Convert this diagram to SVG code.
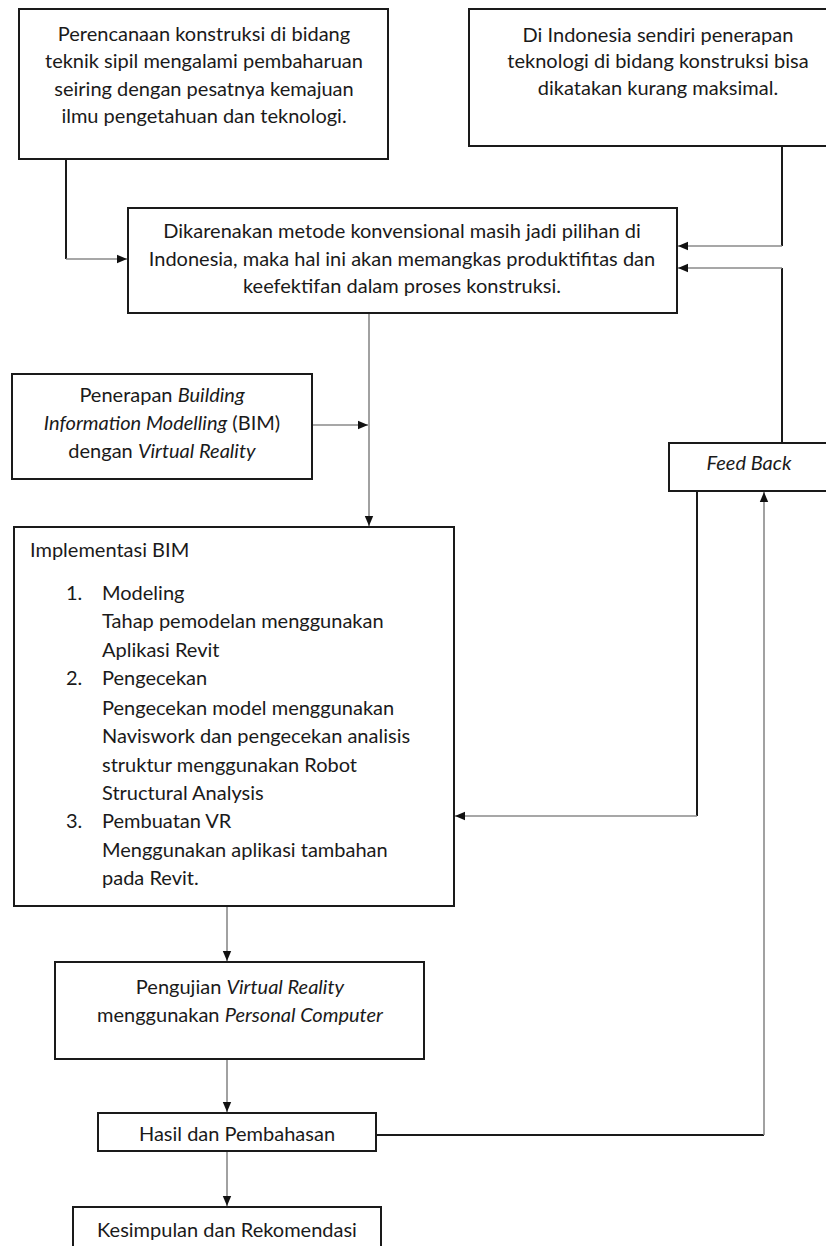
<svg xmlns="http://www.w3.org/2000/svg" width="826" height="1246" viewBox="0 0 826 1246">
<defs>
<style>
.box{fill:#fff;stroke:#1a1a1a;stroke-width:2}
.t{font-family:Lato,"Liberation Sans",sans-serif;font-size:20px;fill:#1a1a1a}
.c{text-anchor:middle}
.i{font-style:italic}
.k{fill:none;stroke:#1a1a1a;stroke-width:2}
.g{fill:none;stroke:#8a8a8a;stroke-width:1.6}
</style>
<marker id="ah" markerUnits="userSpaceOnUse" markerWidth="11" markerHeight="10" refX="10" refY="5" orient="auto">
<path d="M0,0.8 L10,5 L0,9.2 Z" fill="#111"/>
</marker>
</defs>
<rect width="826" height="1246" fill="#fff"/>
<g id="connectors">
<line class="k" x1="66" y1="159" x2="66" y2="259"/>
<line class="g" x1="66" y1="259" x2="127" y2="259" marker-end="url(#ah)"/>
<line class="k" x1="782" y1="146" x2="782" y2="246"/>
<line class="g" x1="782" y1="246" x2="678" y2="246" marker-end="url(#ah)"/>
<line class="k" x1="782" y1="443" x2="782" y2="268"/>
<line class="g" x1="782" y1="268" x2="678" y2="268" marker-end="url(#ah)"/>
<line class="g" x1="369" y1="313" x2="369" y2="526" marker-end="url(#ah)"/>
<line class="g" x1="312" y1="425" x2="368" y2="425" marker-end="url(#ah)"/>
<line class="k" x1="697" y1="491" x2="697" y2="816"/>
<line class="g" x1="697" y1="816" x2="455" y2="816" marker-end="url(#ah)"/>
<line class="k" x1="376" y1="1135" x2="764" y2="1135"/>
<line class="g" x1="764" y1="1135" x2="764" y2="492" marker-end="url(#ah)"/>
<line class="g" x1="227" y1="906" x2="227" y2="961" marker-end="url(#ah)"/>
<line class="g" x1="227" y1="1059" x2="227" y2="1112" marker-end="url(#ah)"/>
<line class="g" x1="227" y1="1151" x2="227" y2="1206" marker-end="url(#ah)"/>
</g>
<g id="n1">
<rect class="box" x="19" y="9" width="369" height="150"/>
<text class="t c" x="204" y="41">Perencanaan konstruksi di bidang</text>
<text class="t c" x="204" y="68">teknik sipil mengalami pembaharuan</text>
<text class="t c" x="204" y="96">seiring dengan pesatnya kemajuan</text>
<text class="t c" x="204" y="123">ilmu pengetahuan dan teknologi.</text>
</g>
<g id="n2">
<rect class="box" x="469" y="9" width="380" height="137"/>
<text class="t c" x="658" y="42">Di Indonesia sendiri penerapan</text>
<text class="t c" x="658" y="68">teknologi di bidang konstruksi bisa</text>
<text class="t c" x="658" y="95">dikatakan kurang maksimal.</text>
</g>
<g id="n3">
<rect class="box" x="128" y="208" width="549" height="105"/>
<text class="t c" x="402" y="238">Dikarenakan metode konvensional masih jadi pilihan di</text>
<text class="t c" x="402" y="266">Indonesia, maka hal ini akan memangkas produktifitas dan</text>
<text class="t c" x="402" y="293">keefektifan dalam proses konstruksi.</text>
</g>
<g id="n4">
<rect class="box" x="12" y="374" width="300" height="105"/>
<text class="t c" x="162" y="402">Penerapan <tspan class="i">Building</tspan></text>
<text class="t c" x="162" y="430"><tspan class="i">Information Modelling</tspan> (BIM)</text>
<text class="t c" x="162" y="458">dengan <tspan class="i">Virtual Reality</tspan></text>
</g>
<g id="n5">
<rect class="box" x="669" y="443" width="180" height="48"/>
<text class="t c i" x="749" y="470">Feed Back</text>
</g>
<g id="n6">
<rect class="box" x="14" y="527" width="440" height="379"/>
<text class="t" x="30" y="557">Implementasi BIM</text>
<text class="t" x="66" y="600">1.</text>
<text class="t" x="102" y="600">Modeling</text>
<text class="t" x="102" y="628">Tahap pemodelan menggunakan</text>
<text class="t" x="102" y="657">Aplikasi Revit</text>
<text class="t" x="66" y="685">2.</text>
<text class="t" x="102" y="685">Pengecekan</text>
<text class="t" x="102" y="715">Pengecekan model menggunakan</text>
<text class="t" x="102" y="743">Naviswork dan pengecekan analisis</text>
<text class="t" x="102" y="772">struktur menggunakan Robot</text>
<text class="t" x="102" y="800">Structural Analysis</text>
<text class="t" x="66" y="828">3.</text>
<text class="t" x="102" y="828">Pembuatan VR</text>
<text class="t" x="102" y="857">Menggunakan aplikasi tambahan</text>
<text class="t" x="102" y="885">pada Revit.</text>
</g>
<g id="n7">
<rect class="box" x="55" y="962" width="369" height="97"/>
<text class="t c" x="240" y="994">Pengujian <tspan class="i">Virtual Reality</tspan></text>
<text class="t c" x="240" y="1022">menggunakan <tspan class="i">Personal Computer</tspan></text>
</g>
<g id="n8">
<rect class="box" x="98" y="1113" width="278" height="38"/>
<text class="t c" x="237" y="1141">Hasil dan Pembahasan</text>
</g>
<g id="n9">
<rect class="box" x="73" y="1207" width="308" height="60"/>
<text class="t c" x="227" y="1237">Kesimpulan dan Rekomendasi</text>
</g>
</svg>
